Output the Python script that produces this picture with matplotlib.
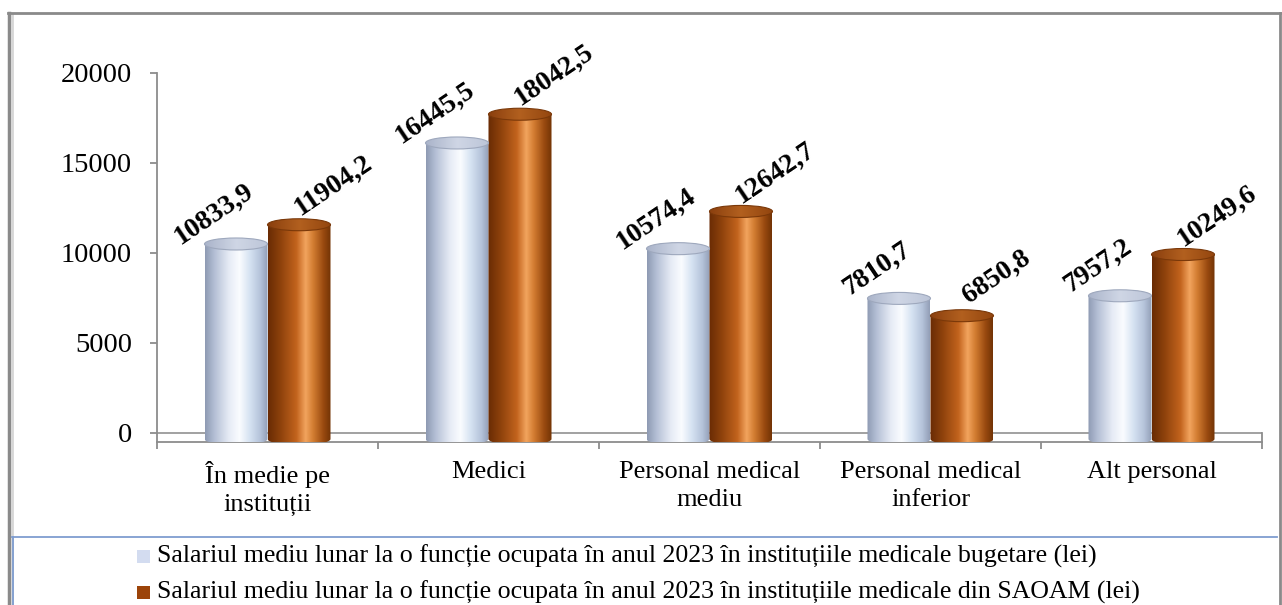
import numpy as np
import matplotlib.pyplot as plt
import matplotlib.transforms as mtransforms
from matplotlib.colors import LinearSegmentedColormap
from matplotlib.patches import Ellipse, PathPatch, Rectangle
from matplotlib.path import Path

plt.rcParams['font.family'] = ['Liberation Serif', 'DejaVu Serif']

# ── data ───────────────────────────────────────────────────────────────────
categories = ['În medie pe\ninstituții', 'Medici', 'Personal medical\nmediu',
              'Personal medical\ninferior', 'Alt personal']
bugetare = [10833.9, 16445.5, 10574.4, 7810.7, 7957.2]
saoam = [11904.2, 18042.5, 12642.7, 6850.8, 10249.6]
series_names = [
    'Salariul mediu lunar la o funcție ocupata în anul 2023 în instituțiile medicale bugetare (lei)',
    'Salariul mediu lunar la o funcție ocupata în anul 2023 în instituțiile medicale din SAOAM (lei)',
]
yticks = [0, 5000, 10000, 15000, 20000]

W, H = 1282, 605
fig = plt.figure(figsize=(W / 100, H / 100), dpi=100, facecolor='white')

# background axes in pixel coords for frame + legend
bg = fig.add_axes([0, 0, 1, 1], zorder=-5)
bg.set_xlim(0, W)
bg.set_ylim(H, 0)
bg.axis('off')

# outer grey frame with a soft shadow on the left
bg.plot([8.5, 8.5], [13, H], color='#8a8a8a', lw=2.5)
bg.plot([11.5, 11.5], [14, H], color='#d6d6d6', lw=2)
bg.plot([8, W], [13, 13], color='#8a8a8a', lw=2)
bg.plot([1279.5, 1279.5], [13, H], color='#8a8a8a', lw=2)

# legend area (blue box)
bg.plot([12, 1277], [537, 537], color='#7f9dd0', lw=1.3)
bg.plot([12.5, 12.5], [537, H], color='#7f9dd0', lw=1.3)

# ── chart axes ─────────────────────────────────────────────────────────────
ax = fig.add_axes([157 / W, (H - 442) / H, 1105 / W, 369 / H])
ax.set_facecolor('none')

px = 20500 / 369          # data units per pixel (y)
bw = 63 / 221             # bar width in category units
eh = 12 * px              # ellipse height in data units


def shifted(dx, dy):
    return ax.transData + mtransforms.ScaledTranslation(dx / 100, dy / 100, fig.dpi_scale_trans)


light_cmap = LinearSegmentedColormap.from_list('light', [
    (0.0, '#8e9ab3'), (0.15, '#b4bfd5'), (0.38, '#e6ebf5'), (0.55, '#fafcff'),
    (0.72, '#d4e1f1'), (0.88, '#b5c3da'), (1.0, '#929eb6')])
light_top = LinearSegmentedColormap.from_list('ltop', ['#aab4ca', '#cfd6e5', '#bcc5d8'])
brown_cmap = LinearSegmentedColormap.from_list('brown', [
    (0.0, '#692b04'), (0.2, '#8e420c'), (0.45, '#c2631d'), (0.6, '#f2a45e'),
    (0.72, '#d27c31'), (0.88, '#9a4a10'), (1.0, '#723305')])
brown_top = LinearSegmentedColormap.from_list('btop', ['#8a3f0e', '#b2601f', '#93460f'])

grad = np.linspace(0, 1, 256)[None, :]
body_tr = shifted(0, -6)


def cylinder(xc, val, cmap, tcmap, edge):
    x0, x1 = xc - bw / 2, xc + bw / 2
    t = np.linspace(np.pi, 2 * np.pi, 60)
    arc = np.column_stack([xc + bw / 2 * np.cos(t), eh / 2 * np.sin(t)])
    verts = np.vstack([[x0, val], arc, [x1, val], [x0, val]])
    body = PathPatch(Path(verts), transform=body_tr, facecolor='none', edgecolor='none')
    ax.add_patch(body)
    im = ax.imshow(grad, extent=(x0, x1, -eh / 2, val), cmap=cmap, aspect='auto',
                   transform=body_tr, zorder=3, interpolation='bilinear')
    im.set_clip_path(body)
    top = Ellipse((xc, val), bw, eh, transform=body_tr, facecolor='none',
                  edgecolor=edge, lw=0.8, zorder=5)
    ax.add_patch(top)
    imt = ax.imshow(grad, extent=(x0, x1, val - eh / 2, val + eh / 2), cmap=tcmap,
                    aspect='auto', transform=body_tr, zorder=4, interpolation='bilinear')
    imt.set_clip_path(top)


xs = np.arange(len(categories)) + 0.5
for i in range(len(categories)):
    cylinder(xs[i] - bw / 2, bugetare[i], light_cmap, light_top, '#9ea8bd')
    cylinder(xs[i] + bw / 2, saoam[i], brown_cmap, brown_top, '#7a3809')

    ax.annotate(f'{bugetare[i]:.1f}'.replace('.', ','), (xs[i] - bw / 2, bugetare[i]),
                xytext=(-22 * 0.72, 24 * 0.72), textcoords='offset points',
                ha='center', va='center', rotation=34, rotation_mode='anchor',
                fontsize=20, fontweight='bold', zorder=6)
    ax.annotate(f'{saoam[i]:.1f}'.replace('.', ','), (xs[i] + bw / 2, saoam[i]),
                xytext=(34 * 0.72, 33 * 0.72), textcoords='offset points',
                ha='center', va='center', rotation=34, rotation_mode='anchor',
                fontsize=20, fontweight='bold', zorder=6)

# floor back line
ax.axhline(0, color='#9a9a9a', lw=1.3, zorder=1)

ax.set_xlim(0, len(categories))
ax.set_ylim(-500, 20000)

ax.spines['top'].set_visible(False)
ax.spines['right'].set_bounds(-500, 0)
for s in ['left', 'bottom', 'right']:
    ax.spines[s].set_color('#8c8c8c')
    ax.spines[s].set_linewidth(1.3)
ax.spines['left'].set_bounds(-500, 20000)

ax.set_yticks(yticks)
ax.set_yticklabels([str(v) for v in yticks])
ax.tick_params(axis='y', length=5, width=1.3, color='#8c8c8c', pad=13, labelsize=20.5)
ax.tick_params(axis='y', right=False)

ax.set_xticks(np.arange(len(categories) + 1))
ax.set_xticklabels([])
ax.tick_params(axis='x', which='major', length=5, width=1.3, color='#8c8c8c')
ax.set_xticks(xs, minor=True)
ax.set_xticklabels(categories, minor=True, fontsize=19, linespacing=1.3)
ax.tick_params(axis='x', which='minor', length=0, pad=14)

# ── legend ─────────────────────────────────────────────────────────────────
legend_colors = ['#d3dcf0', '#9c4409']
legend_rows = [556.5, 592]
for name, col, yc in zip(series_names, legend_colors, legend_rows):
    bg.add_patch(Rectangle((137, yc - 6.5), 13, 13, facecolor=col, edgecolor='none'))
    bg.text(157, yc, name, fontsize=18.6, va='center', ha='left')

fig.savefig('out.png', dpi=100, facecolor='white')
